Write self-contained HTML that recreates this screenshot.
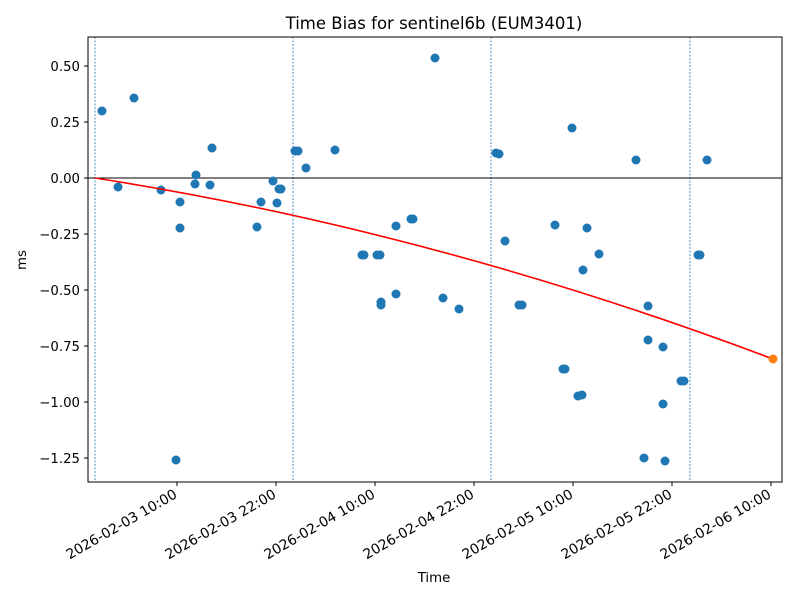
<!DOCTYPE html>
<html><head><style>body{margin:0;background:#fff}svg text{font-family:"DejaVu Sans","Liberation Sans",sans-serif;fill:#000}</style></head><body>
<svg width="800" height="600" xmlns="http://www.w3.org/2000/svg">
<rect width="800" height="600" fill="#fff"/>
<text x="434" y="29" font-size="16.5" text-anchor="middle">Time Bias for sentinel6b (EUM3401)</text>
<g stroke="#1f77b4" stroke-width="0.8" stroke-dasharray="2,1.5">
<line x1="95" y1="37" x2="95" y2="482"/><line x1="293" y1="37" x2="293" y2="482"/><line x1="491" y1="37" x2="491" y2="482"/><line x1="690" y1="37" x2="690" y2="482"/>
</g>
<line x1="88" y1="178" x2="782" y2="178" stroke="#000" stroke-width="1"/>
<g fill="#1f77b4">
<circle cx="102" cy="111" r="4.5"/><circle cx="118" cy="187" r="4.5"/><circle cx="134" cy="98" r="4.5"/><circle cx="161" cy="190" r="4.5"/><circle cx="176" cy="460" r="4.5"/><circle cx="180" cy="202" r="4.5"/><circle cx="180" cy="228" r="4.5"/><circle cx="195" cy="184" r="4.5"/><circle cx="196" cy="175" r="4.5"/><circle cx="210" cy="185" r="4.5"/><circle cx="212" cy="148" r="4.5"/><circle cx="257" cy="227" r="4.5"/><circle cx="261" cy="202" r="4.5"/><circle cx="273" cy="181" r="4.5"/><circle cx="277" cy="203" r="4.5"/><circle cx="279" cy="189" r="4.5"/><circle cx="281" cy="189" r="4.5"/><circle cx="295" cy="151" r="4.5"/><circle cx="298" cy="151" r="4.5"/><circle cx="306" cy="168" r="4.5"/><circle cx="335" cy="150" r="4.5"/><circle cx="362" cy="255" r="4.5"/><circle cx="364" cy="255" r="4.5"/><circle cx="377" cy="255" r="4.5"/><circle cx="380" cy="255" r="4.5"/><circle cx="381" cy="302" r="4.5"/><circle cx="381" cy="305" r="4.5"/><circle cx="396" cy="226" r="4.5"/><circle cx="396" cy="294" r="4.5"/><circle cx="411" cy="219" r="4.5"/><circle cx="413" cy="219" r="4.5"/><circle cx="435" cy="58" r="4.5"/><circle cx="443" cy="298" r="4.5"/><circle cx="459" cy="309" r="4.5"/><circle cx="496" cy="153" r="4.5"/><circle cx="499" cy="154" r="4.5"/><circle cx="505" cy="241" r="4.5"/><circle cx="519" cy="305" r="4.5"/><circle cx="522" cy="305" r="4.5"/><circle cx="555" cy="225" r="4.5"/><circle cx="563" cy="369" r="4.5"/><circle cx="565" cy="369" r="4.5"/><circle cx="572" cy="128" r="4.5"/><circle cx="578" cy="396" r="4.5"/><circle cx="582" cy="395" r="4.5"/><circle cx="583" cy="270" r="4.5"/><circle cx="587" cy="228" r="4.5"/><circle cx="599" cy="254" r="4.5"/><circle cx="636" cy="160" r="4.5"/><circle cx="644" cy="458" r="4.5"/><circle cx="648" cy="306" r="4.5"/><circle cx="648" cy="340" r="4.5"/><circle cx="663" cy="347" r="4.5"/><circle cx="663" cy="404" r="4.5"/><circle cx="665" cy="461" r="4.5"/><circle cx="681" cy="381" r="4.5"/><circle cx="684" cy="381" r="4.5"/><circle cx="698" cy="255" r="4.5"/><circle cx="700" cy="255" r="4.5"/><circle cx="707" cy="160" r="4.5"/>
</g>
<path d="M95,178 Q434,231 773,359" fill="none" stroke="#ff0000" stroke-width="1.6"/>
<circle cx="773" cy="359" r="4.5" fill="#ff7f0e"/>
<rect x="88" y="37" width="694" height="445" fill="none" stroke="#000" stroke-width="1"/>
<g stroke="#000" stroke-width="1">
<line x1="84" y1="66" x2="88" y2="66"/><line x1="84" y1="122" x2="88" y2="122"/><line x1="84" y1="178" x2="88" y2="178"/><line x1="84" y1="234" x2="88" y2="234"/><line x1="84" y1="290" x2="88" y2="290"/><line x1="84" y1="346" x2="88" y2="346"/><line x1="84" y1="402" x2="88" y2="402"/><line x1="84" y1="458" x2="88" y2="458"/>
<line x1="177" y1="482" x2="177" y2="486"/><line x1="276" y1="482" x2="276" y2="486"/><line x1="375" y1="482" x2="375" y2="486"/><line x1="474" y1="482" x2="474" y2="486"/><line x1="573" y1="482" x2="573" y2="486"/><line x1="672" y1="482" x2="672" y2="486"/><line x1="771" y1="482" x2="771" y2="486"/>
</g>
<g font-size="13.3" text-anchor="end">
<text x="80" y="71">0.50</text><text x="80" y="127">0.25</text><text x="80" y="183">0.00</text><text x="80" y="239">−0.25</text><text x="80" y="295">−0.50</text><text x="80" y="351">−0.75</text><text x="80" y="407">−1.00</text><text x="80" y="463">−1.25</text>
</g>
<g font-size="13.9" text-anchor="end">
<text transform="translate(178,497) rotate(-30)">2026-02-03 10:00</text>
<text transform="translate(277,497) rotate(-30)">2026-02-03 22:00</text>
<text transform="translate(376,497) rotate(-30)">2026-02-04 10:00</text>
<text transform="translate(475,497) rotate(-30)">2026-02-04 22:00</text>
<text transform="translate(574,497) rotate(-30)">2026-02-05 10:00</text>
<text transform="translate(673,497) rotate(-30)">2026-02-05 22:00</text>
<text transform="translate(772,497) rotate(-30)">2026-02-06 10:00</text>
</g>
<text x="434" y="582" font-size="13.3" text-anchor="middle">Time</text>
<text transform="translate(26,260) rotate(-90)" font-size="13.3" text-anchor="middle">ms</text>
</svg>
</body></html>
